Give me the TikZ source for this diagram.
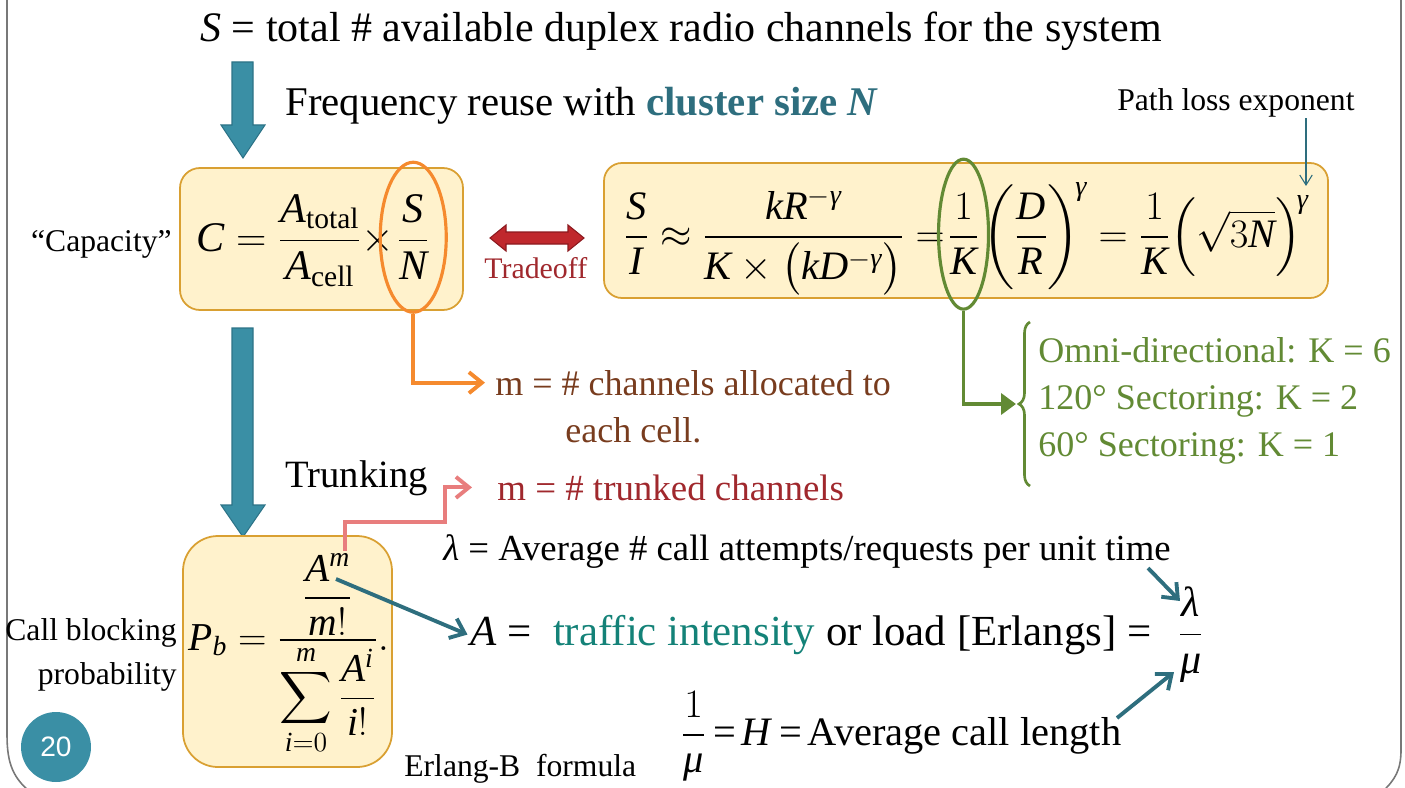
\documentclass[tikz,border=0pt]{standalone}
\usepackage{fix-cm}
\usepackage{amsmath}
\usepackage{fontspec}
\setmainfont{Liberation Serif}
\newfontfamily\sansf{Liberation Sans}
\newfontfamily\mathtxt{Liberation Serif}[NFSSFamily=libser]
\DeclareSymbolFont{tuit}{TU}{libser}{m}{it}
\DeclareSymbolFont{tuup}{TU}{libser}{m}{n}
\makeatletter
\@tempcnta=`A
\loop \Umathcode\@tempcnta=7 \symtuit \@tempcnta \ifnum\@tempcnta<`Z \advance\@tempcnta 1 \repeat
\@tempcnta=`a
\loop \Umathcode\@tempcnta=7 \symtuit \@tempcnta \ifnum\@tempcnta<`z \advance\@tempcnta 1 \repeat
\@tempcnta=`0
\loop \Umathcode\@tempcnta=7 \symtuup \@tempcnta \ifnum\@tempcnta<`9 \advance\@tempcnta 1 \repeat
\makeatother
\Umathchardef\gamma=7 \symtuit "03B3
\Umathchardef\lambda=7 \symtuit "03BB
\Umathchardef\mu=7 \symtuit "03BC
\usetikzlibrary{arrows.meta,decorations.pathreplacing,shapes.geometric}
\definecolor{teal1}{RGB}{58,143,165}
\definecolor{teal2}{RGB}{45,115,135}
\definecolor{tealdark}{RGB}{46,110,126}
\definecolor{tealtext}{RGB}{20,130,120}
\definecolor{boxfill}{RGB}{255,242,204}
\definecolor{boxdraw}{RGB}{217,160,50}
\definecolor{orng}{RGB}{245,138,46}
\definecolor{grn}{RGB}{98,138,52}
\definecolor{brown1}{RGB}{120,60,30}
\definecolor{dred}{RGB}{160,40,45}
\definecolor{pink1}{RGB}{232,125,125}
\definecolor{red1}{RGB}{192,40,45}
\definecolor{red2}{RGB}{140,25,30}
\definecolor{framegray}{RGB}{120,120,120}
\newcommand{\fsz}[2]{\fontsize{#1}{#2}\selectfont}
\begin{document}
\begin{tikzpicture}[x=0.02cm,y=-0.02cm,
  txt/.style={inner sep=0pt, anchor=base west},
  fbox/.style={draw=boxdraw, fill=boxfill, line width=1pt},
  blockarrow/.style={fill=teal1, draw=teal2, line width=0.6pt},
  conn/.style={line width=2.2pt},
  barb/.style={-{Straight Barb[length=0.26cm,width=0.42cm]}}]
\useasboundingbox (0,0) rectangle (1405,787);

% frame
\draw[framegray, line width=0.9pt] (7,-2) -- (7,735) .. controls (7,765) and (14,778) .. (30,792);
\draw[framegray, line width=0.9pt] (1401,-2) -- (1401,750) .. controls (1401,770) and (1395,780) .. (1382,792);

% title
\node[txt, font=\fsz{23.9}{28}] (title) at (200,42) {\textit{S} = total \# available duplex radio channels for the system};

% arrow 1
\draw[blockarrow] (232,62) -- (253,62) -- (253,125) -- (265,125) -- (243,158) -- (221,125) -- (232,125) -- cycle;
\node[txt, font=\fsz{23.2}{28}] (freq) at (285,116) {Frequency reuse with \textcolor{tealdark}{\textbf{cluster size \textit{N}}}};

% capacity box
\draw[fbox, rounded corners=0.4cm] (180,168) rectangle (463,310);
\node[txt, anchor=base east, font=\fsz{18}{22}] (caplbl) at (172,251) {“Capacity”};
\node[txt, font=\fsz{24}{29}] (capf) at (196,251) {$C=\dfrac{A_{\text{total}}}{A_{\text{cell}}}\times$};
\node[txt, font=\fsz{24}{29}] (SN) at ([xshift=0.04cm]capf.base east) {$\dfrac{S}{N}$};
\node[ellipse, draw=orng, line width=1.8pt, minimum width=1.32cm, minimum height=3cm, inner sep=0pt] (ovS) at (SN.center) {};

% orange connector
\node[txt, text=brown1, font=\fsz{20.5}{25}] (mch) at (495,395) {m = \# channels allocated to};
\node[txt, text=brown1, font=\fsz{20.5}{25}] (mch2) at (565,442) {each cell.};
\draw[orng, conn, barb] (ovS.south) |- ([xshift=-0.2cm]mch.west);

% tradeoff
\draw[fill=red1, draw=red2, line width=0.6pt] (490,238) -- (506,225) -- (506,232) -- (568,232) -- (568,225) -- (584,238) -- (568,251) -- (568,244) -- (506,244) -- (506,251) -- cycle;
\node[txt, text=dred, font=\fsz{17}{20}] (trade) at (484,278) {Tradeoff};

% SIR box
\draw[fbox, rounded corners=0.36cm] (604,163) rectangle (1328,298);
\node[txt, font=\fsz{23}{28}] (sirA) at (624,247) {$\dfrac{S}{I}\approx\dfrac{kR^{-\gamma}}{K\times\bigl(kD^{-\gamma}\bigr)}=$};
\node[txt, font=\fsz{23}{28}] (oneK) at ([xshift=0.05cm]sirA.base east) {$\dfrac{1}{K}$};
\node[txt, font=\fsz{23}{28}] (sirB) at ([xshift=0.05cm]oneK.base east) {$\left(\dfrac{D}{R}\right)^{\!\gamma}=\dfrac{1}{K}\Bigl(\sqrt{3N}\Bigr)^{\!\gamma}$};
\node[ellipse, draw=grn, line width=1.8pt, minimum width=1cm, minimum height=3cm, inner sep=0pt] (ovK) at (oneK.center) {};

% path loss exponent
\node[txt, font=\fsz{18}{22}] (ple) at (1117,111) {Path loss exponent};
\coordinate (gam) at (1306,186);
\draw[tealdark, line width=0.6pt, -{Straight Barb[length=0.2cm,width=0.25cm]}] (ple.south -| gam) -- (gam);

% brace and K list
\draw[grn, line width=1.5pt, decorate, decoration={brace, amplitude=0.22cm}] (1030,486) -- (1030,322);
\coordinate (btip) at (1016,404);
\draw[grn, conn, -{Triangle[length=0.3cm,width=0.42cm]}] (ovK.south) |- (btip);
\node[txt, text=grn, font=\fsz{20.5}{25}] (k1) at (1038,362) {Omni-directional: K = 6};
\node[txt, text=grn, font=\fsz{20.5}{25}] (k2) at (1038,409) {120° Sectoring: K = 2};
\node[txt, text=grn, font=\fsz{20.5}{25}] (k3) at (1038,456) {60° Sectoring: K = 1};

% arrow 2
\draw[blockarrow] (232,328) -- (253,328) -- (253,505) -- (265,505) -- (243,537) -- (221,505) -- (232,505) -- cycle;
\node[txt, font=\fsz{22}{26}] (trunk) at (285,487) {Trunking};

% Erlang box
\draw[fbox, rounded corners=0.7cm] (183,536) rectangle (392,767);
\node[txt, font=\fsz{22.5}{27}] (Pb) at (188,650) {$P_b=\dfrac{\dfrac{A^m}{m!}}{\displaystyle\sum_{i=0}^{m}\dfrac{A^i}{i!}}.$};
\coordinate (Am) at (336,579);
\coordinate (Amtop) at (345,551);
\node[font=\fsz{18}{25}, align=right, anchor=east, inner sep=0pt] (cbp) at (177,655) {Call blocking\\probability};

% trunked channels
\node[txt, text=dred, font=\fsz{21}{25}] (mtr) at (497,500) {m = \# trunked channels};
\coordinate (pk) at (445,522);
\draw[pink1, conn, barb] (Amtop) |- (pk) |- ([xshift=-0.5cm]mtr.west);

% lambda line
\node[txt, font=\fsz{20.9}{25}] (lam) at (443,560) {$\lambda$ = Average \# call attempts/requests per unit time};

% A line
\node[txt, font=\fsz{24.4}{29}] (Aeq) at (470,645) {\textit{A} = \ \textcolor{tealtext}{traffic intensity} or load [Erlangs] =};
\node[txt, font=\fsz{24}{29}] (lm) at ([xshift=0.52cm]Aeq.base east) {$\dfrac{\lambda}{\mu}$};
\draw[tealdark, conn, barb] (Am) -- ([xshift=-0.05cm]Aeq.west);

% 1/mu line
\node[txt, font=\fsz{23}{28}] (Hl) at (681,745) {$\dfrac{1}{\mu}$\hspace{0.18em}=\hspace{0.15em}\textit{H}\hspace{0.15em}=\hspace{0.15em}Average call length};

\coordinate (la1) at (1148,568);
\coordinate (la2) at (1180,601);
\draw[tealdark, conn, barb] (la1) -- (la2);
\coordinate (mu1) at (1117,718);
\coordinate (mu2) at (1174,672);
\draw[tealdark, conn, barb] (mu1) -- (mu2);

% Erlang-B
\node[txt, font=\fsz{18}{22}] (erl) at (404,776) {Erlang-B\ \ formula};

% page number
\node[circle, fill=teal1, minimum size=1.4cm, inner sep=0pt, text=white, font=\sansf\fsz{16}{19}] (pg) at (56,747) {20};
\end{tikzpicture}
\end{document}
